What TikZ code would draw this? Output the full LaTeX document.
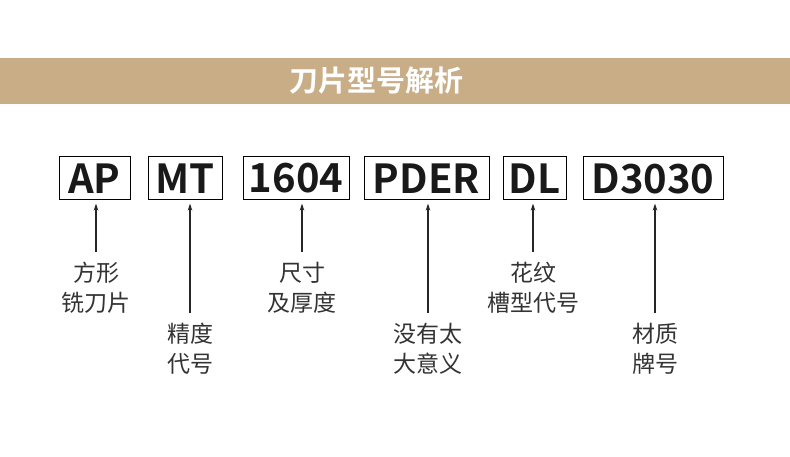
\documentclass[tikz,border=0pt]{standalone}
\usepackage{fontspec}
\setmainfont{Noto Sans CJK SC}[BoldFont={Noto Sans CJK SC Bold}]
\usetikzlibrary{arrows.meta}

\definecolor{banner}{HTML}{C9AD86}
\definecolor{notegray}{HTML}{333333}

\begin{document}
\begin{tikzpicture}[x=1pt,y=-1pt,>={Stealth[length=7pt,width=4.5pt]},
  code/.style={draw=black,line width=1pt,minimum height=43pt,inner sep=0pt,
    font=\bfseries\fontsize{40}{40}\selectfont,text=black!90},
  note/.style={anchor=north,align=center,inner sep=0pt,text=notegray,
    font=\fontsize{23}{30}\selectfont},
  pointer/.style={->,line width=1.2pt,draw=black!85,shorten <=10pt,shorten >=3pt}]
  \useasboundingbox (0,0) rectangle (790,457);
  % title band
  \fill[banner] (0,58) rectangle (790,104);
  \node[text=white,font=\bfseries\fontsize{29}{29}\selectfont] (title) at (376,81) {刀片型号解析};
  % code parts
  \node[code,minimum width=71pt] (ap) at (94.5,178.5) {AP};
  \node[code,minimum width=74pt] (mt) at (185,178.5) {MT};
  \node[code,minimum width=106pt] (size) at (296,178.5) {1604};
  \node[code,minimum width=125pt] (pder) at (426.5,178.5) {PDER};
  \node[code,minimum width=63pt] (dl) at (534.5,178.5) {DL};
  \node[code,minimum width=140pt] (grade) at (653,178.5) {D3030};
  % meanings
  \node[note] (shape) at (96,262) {方形\\铣刀片};
  \node[note] (tol) at (190,323) {精度\\代号};
  \node[note] (dim) at (302,262) {尺寸\\及厚度};
  \node[note] (none) at (428,323) {没有太\\大意义};
  \node[note] (chip) at (533,262) {花纹\\槽型代号};
  \node[note] (mat) at (655,323) {材质\\牌号};
  % arrows
  \draw[pointer] (shape.north) -- (shape.north |- ap.south);
  \draw[pointer] (tol.north) -- (tol.north |- mt.south);
  \draw[pointer] (dim.north) -- (dim.north |- size.south);
  \draw[pointer] (none.north) -- (none.north |- pder.south);
  \draw[pointer] (chip.north) -- (chip.north |- dl.south);
  \draw[pointer] (mat.north) -- (mat.north |- grade.south);
\end{tikzpicture}
\end{document}
